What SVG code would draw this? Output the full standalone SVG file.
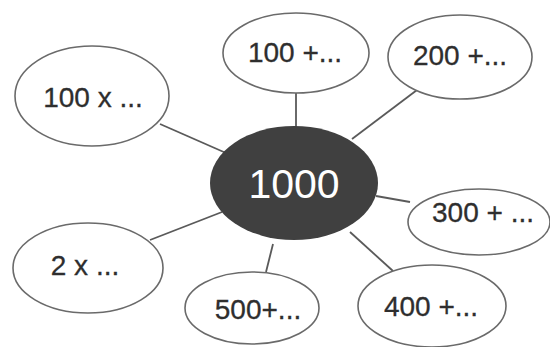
<svg xmlns="http://www.w3.org/2000/svg" width="550" height="347" viewBox="0 0 550 347">
<style>
.n{fill:#fff;stroke:#6a6a6a;stroke-width:1.6}
.t{font-family:"Liberation Sans",Arial,sans-serif;font-size:28px;fill:#2e2e2e;text-anchor:middle;stroke:#2e2e2e;stroke-width:0.3}
.c{stroke:#5a5a5a;stroke-width:1.8;fill:none}
</style>
<rect width="550" height="347" fill="#fff"/>
<g id="connectors">
<line class="c" x1="160" y1="124" x2="226" y2="153"/>
<line class="c" x1="296" y1="93" x2="296" y2="128"/>
<line class="c" x1="417" y1="90" x2="352" y2="139"/>
<line class="c" x1="376" y1="196" x2="410" y2="202"/>
<line class="c" x1="350" y1="232" x2="393" y2="271"/>
<line class="c" x1="273" y1="244" x2="266" y2="272"/>
<line class="c" x1="150" y1="240" x2="222" y2="212"/>
</g>
<g id="center">
<ellipse cx="294" cy="183" rx="84" ry="57" fill="#404040"/>
<text x="294" y="198" style="font-family:'Liberation Sans',Arial,sans-serif;font-size:41px;fill:#fff;text-anchor:middle">1000</text>
</g>
<g id="n100x">
<ellipse class="n" cx="92" cy="96" rx="77" ry="50"/>
<text class="t" x="93" y="107">100 x ...</text>
</g>
<g id="n100p">
<ellipse class="n" cx="296" cy="53" rx="73" ry="40"/>
<text class="t" x="295" y="62">100 +...</text>
</g>
<g id="n200p">
<ellipse class="n" cx="460" cy="57" rx="72" ry="42"/>
<text class="t" x="460" y="65">200 +...</text>
</g>
<g id="n300p">
<ellipse class="n" cx="479" cy="222" rx="71" ry="33"/>
<text class="t" x="483" y="222">300 + ...</text>
</g>
<g id="n400p">
<ellipse class="n" cx="432" cy="306" rx="74" ry="41"/>
<text class="t" x="431" y="316">400 +...</text>
</g>
<g id="n500p">
<ellipse class="n" cx="252" cy="308" rx="67" ry="36"/>
<text class="t" x="258" y="319">500+...</text>
</g>
<g id="n2x">
<ellipse class="n" cx="88" cy="268" rx="75" ry="45"/>
<text class="t" x="85" y="275">2 x ...</text>
</g>
</svg>
